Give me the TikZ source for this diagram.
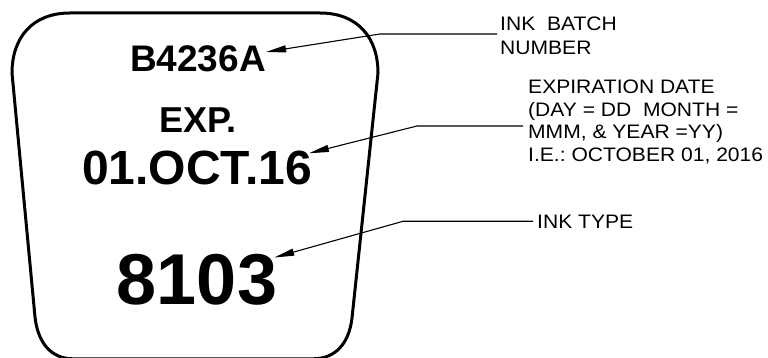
\documentclass[tikz,border=0pt]{standalone}
\usepackage{fontspec}
\setmainfont{Liberation Sans}
\newfontfamily\notefont[FakeStretch=1.08]{Liberation Sans}
\usetikzlibrary{positioning,calc,arrows.meta}
\frenchspacing
\tikzset{
  stamp/.style={anchor=base, inner sep=0pt, font=\bfseries\fontsize{#1}{#1}\selectfont},
  note/.style={anchor=north west, inner sep=0pt, align=left,
               font=\notefont\fontsize{19.5}{#1}\selectfont},
  leader/.style={line width=1.1pt, -{Triangle[length=20pt,width=7pt]}},
  rim/.style={line width=3pt}
}
\begin{document}
\begin{tikzpicture}[x=1pt,y=-1pt]
  \useasboundingbox (0,0) rectangle (768,358);
  \draw[rim] (70,13) -- (320,13) .. controls (358,13) and (378,38) .. (378,73)
    -- (352,318) .. controls (349,344) and (335,358.8) .. (313,358.8)
    -- (73,358.8) .. controls (52,358.8) and (38,344) .. (35,317)
    -- (12,73) .. controls (12,38) and (32,13) .. (70,13) -- cycle;
  \node[stamp=37] (batch) at (198,72) {B4236A};
  \node[stamp=36] (exp) at (198,133) {EXP.};
  \node[stamp=48] (date) at (197,185) {01.OCT.16};
  \node[stamp=72] (ink) at (197,304) {8103};
  \node[note=24] (batchlbl) at (500,17) {INK\ \ BATCH\\NUMBER};
  \node[note=22.5] (explbl) at (528,80)
    {EXPIRATION DATE\\(DAY = DD\ \ MONTH =\\MMM, \& YEAR =YY)\\I.E.: OCTOBER 01, 2016};
  \node[note=22.5, anchor=base west] (inklbl) at (537,228) {INK TYPE};
  \draw[leader] ([xshift=-3pt,yshift=-17pt]batchlbl.north west) -- ++(-117,0)
    -- ([yshift=-6pt]batch.north east);
  \draw[leader] ([xshift=-5pt,yshift=-46pt]explbl.north west) -- ++(-106,0)
    -- ([xshift=-3pt,yshift=-2pt]date.north east);
  \draw[leader] ([xshift=-4pt]inklbl.west) -- ++(-130,0)
    -- ([xshift=-3pt,yshift=-4pt]ink.north east);
\end{tikzpicture}
\end{document}
